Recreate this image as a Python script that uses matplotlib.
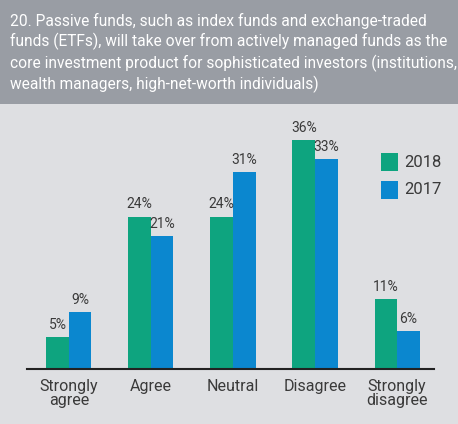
import matplotlib
matplotlib.use('Agg')
import matplotlib.pyplot as plt
import numpy as np
from matplotlib.patches import Rectangle

# данные
categories = ['Strongly\nagree', 'Agree', 'Neutral', 'Disagree', 'Strongly\ndisagree']
series_2018 = [5, 24, 24, 36, 11]
series_2017 = [9, 21, 31, 33, 6]
years = ['2018', '2017']

green = '#0ea47f'
blue = '#0b87cf'
bg = '#dedfe2'
head = '#999da4'
txt = '#3a3a3a'
plt.rcParams['font.family'] = ['Roboto', 'DejaVu Sans']

fig = plt.figure(figsize=(4.58, 4.24), dpi=100)
fig.patch.set_facecolor(bg)

# шапка с заголовком
fig.patches.append(Rectangle((0, 1 - 104 / 424), 1, 104 / 424, transform=fig.transFigure,
                             facecolor=head, edgecolor='none', zorder=0))
title = ('20. Passive funds, such as index funds and exchange-traded\n'
         'funds (ETFs), will take over from actively managed funds as the\n'
         'core investment product for sophisticated investors (institutions,\n'
         'wealth managers, high-net-worth individuals)')
fig.text(10 / 458, 1 - 13 / 424, title, color='white', fontsize=11.2, va='top', ha='left',
         linespacing=1.3)

ax = fig.add_axes([27 / 458, 55 / 424, 407 / 458, 249 / 424])
ax.set_facecolor(bg)
x = np.arange(len(categories))
w = 0.275
b1 = ax.bar(x - w / 2, series_2018, w, color=green)
b2 = ax.bar(x + w / 2, series_2017, w, color=blue)
for bars, vals in ((b1, series_2018), (b2, series_2017)):
    for r, v in zip(bars, vals):
        ax.text(r.get_x() + r.get_width() / 2, v + 0.8, f'{v}%', ha='center', va='bottom',
                fontsize=10, color=txt)

ax.set_xlim(-0.51, 4.45)
ax.set_ylim(0, 39.2)
ax.set_yticks([])
ax.set_xticks(x)
ax.set_xticklabels(categories, fontsize=11.5, color=txt, linespacing=0.95)
ax.tick_params(axis='x', length=0, pad=7)
for s in ['top', 'right', 'left']:
    ax.spines[s].set_visible(False)
ax.spines['bottom'].set_color('#222222')
ax.spines['bottom'].set_linewidth(1.5)

# легенда
for i, (yr, c) in enumerate(zip(years, [green, blue])):
    y0 = 1 - (153 + i * 28) / 424
    fig.patches.append(Rectangle((381 / 458, y0 - 18 / 424), 17 / 458, 18 / 424,
                                 transform=fig.transFigure, facecolor=c, edgecolor='none'))
    fig.text(404 / 458, y0 - 9 / 424, yr, fontsize=12, color=txt, va='center', ha='left')

fig.savefig('out.png', dpi=100, facecolor=bg)
